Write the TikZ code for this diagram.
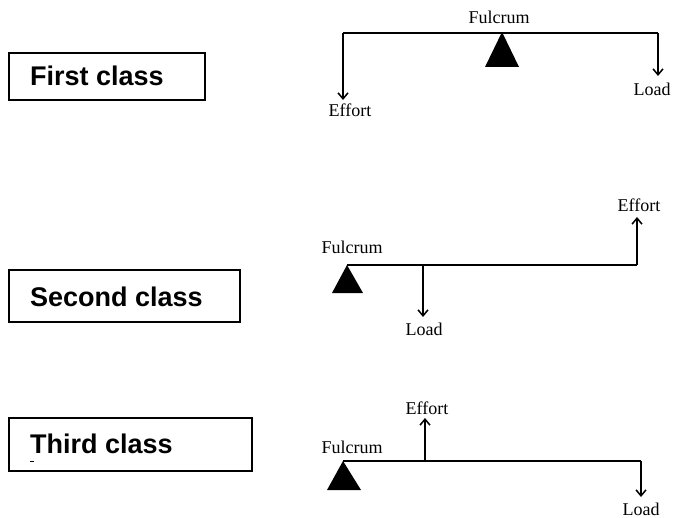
\documentclass[tikz,border=0pt]{standalone}
\usepackage{fontspec}
\setmainfont{Liberation Serif}
\newfontfamily\boxfont{Liberation Sans}
\usetikzlibrary{arrows.meta}
\begin{document}
\begin{tikzpicture}[x=1pt,y=-1pt,
  classbox/.style={draw=black,line width=1.8pt},
  classtext/.style={font=\boxfont\bfseries\fontsize{27}{30}\selectfont,anchor=west,inner sep=0pt},
  lever/.style={line width=2.4pt},
  force/.style={line width=1.5pt,-{Straight Barb[length=6pt,width=10pt,line width=1.5pt]}},
  lbl/.style={font=\fontsize{18}{20}\selectfont,inner sep=0pt},
  fulcrum/.style={fill=black}]
\useasboundingbox (0,0) rectangle (676,518);
% ---------- First class ----------
\draw[classbox] (9,53) rectangle (205,100);
\node[classtext] (t1) at (30,76) {First class};
\coordinate (a1l) at (343,33);
\coordinate (a1r) at (658,33);
\draw[lever] (a1l) -- (a1r);
\fill[fulcrum] (502,32) -- (519,67) -- (485,67) -- cycle;
\node[lbl] (f1) at (499,17) {Fulcrum};
\coordinate (e1) at (343,100);
\coordinate (l1) at (658,76);
\draw[force] (a1l) -- (e1);
\draw[force] (a1r) -- (l1);
\node[lbl] (ef1) at (350,110) {Effort};
\node[lbl] (ld1) at (652,89) {Load};
% ---------- Second class ----------
\draw[classbox] (9,270) rectangle (240,322);
\node[classtext] (t2) at (30,297) {Second class};
\coordinate (a2l) at (347,265);
\coordinate (a2m) at (423,265);
\coordinate (a2r) at (637,265);
\draw[lever] (a2l) -- (a2r);
\fill[fulcrum] (a2l) -- (363,293) -- (332,293) -- cycle;
\node[lbl] (f2) at (352,247) {Fulcrum};
\coordinate (e2) at (637,217);
\coordinate (l2) at (423,317);
\draw[force] (a2r) -- (e2);
\draw[force] (a2m) -- (l2);
\node[lbl] (ef2) at (639,205) {Effort};
\node[lbl] (ld2) at (424,329) {Load};
% ---------- Third class ----------
\draw[classbox] (9,418) rectangle (252,471);
\node[classtext] (t3) at (30,444) {Third class};
\draw[line width=0.8pt] (30,461) -- (34,461);
\coordinate (a3l) at (343,461);
\coordinate (a3m) at (425,461);
\coordinate (a3r) at (641,461);
\draw[lever] (a3l) -- (a3r);
\fill[fulcrum] (a3l) -- (361,490) -- (327,490) -- cycle;
\node[lbl] (f3) at (352,447) {Fulcrum};
\coordinate (e3) at (425,418);
\coordinate (l3) at (641,497);
\draw[force] (a3m) -- (e3);
\draw[force] (a3r) -- (l3);
\node[lbl] (ef3) at (427,408) {Effort};
\node[lbl] (ld3) at (641,509) {Load};
\end{tikzpicture}
\end{document}
